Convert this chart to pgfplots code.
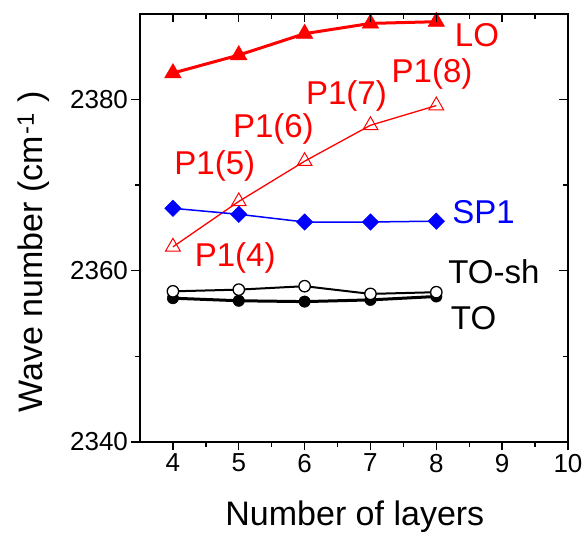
\documentclass[border=0pt]{standalone}
\usepackage{pgfplots}
\pgfplotsset{compat=1.18}
\usepackage{fontspec}
\setmainfont{Liberation Sans}
\tikzset{lbl/.style={anchor=base west, inner sep=0pt, font=\fontsize{33}{33}\selectfont}}
\begin{document}
\begin{tikzpicture}
\begin{axis}[
  name=main,
  width=428pt, height=428pt, scale only axis,
  xmin=3.5, xmax=10, ymin=2340, ymax=2390,
  xtick={4,5,6,7,8,9,10}, ytick={2340,2360,2380},
  minor xtick={4.5,5.5,6.5,7.5,8.5,9.5}, minor ytick={2350,2370},
  xtick pos=bottom, ytick pos=left, tick align=outside,
  major tick length=8.5pt, minor tick length=5pt,
  tick style={black, line width=1.4pt},
  axis line style={line width=1.5pt},
  ticklabel style={font=\fontsize{26}{26}\selectfont},
  /pgf/number format/assume math mode=true,
  /pgf/number format/1000 sep={},
  xlabel={Number of layers},
  ylabel={Wave number (cm\hspace{0.05em}\textsuperscript{-1}\hspace{0.3em})},
  label style={font=\fontsize{34}{34}\selectfont},
  xlabel style={at={(axis description cs:0.502,-0.196)}, anchor=base},
  ylabel style={at={(axis description cs:-0.227,0.444)}, anchor=base},
  clip=false,
]
% LO
\addplot[red, line width=3pt, mark=triangle*, mark size=9.5pt, mark options={line width=0.5pt}]
  coordinates {(4,2383.1) (5,2385.2) (6,2387.7) (7,2388.9) (8,2389.1)};
% P1
\addplot[red, line width=1.3pt, mark=triangle, mark size=8.5pt, mark options={fill=white, line width=1pt}]
  coordinates {(4,2362.8) (5,2368.1) (6,2372.8) (7,2377.0) (8,2379.3)};
% SP1
\addplot[blue, line width=1.5pt, mark=square*, mark size=5.8pt, mark options={rotate=45, line width=0.5pt}]
  coordinates {(4,2367.3) (5,2366.6) (6,2365.7) (7,2365.7) (8,2365.8)};
% TO
\addplot[black, line width=3pt, mark=*, mark size=5.7pt, mark options={line width=0.5pt}]
  coordinates {(4,2356.8) (5,2356.5) (6,2356.4) (7,2356.6) (8,2357.0)};
% TO-sh
\addplot[black, line width=2pt, mark=*, mark size=5.7pt, mark options={fill=white, line width=1.3pt}]
  coordinates {(4,2357.6) (5,2357.8) (6,2358.2) (7,2357.3) (8,2357.5)};

\node[lbl, red] at (axis cs:8.28,2386.26) {LO};
\node[lbl, red] at (axis cs:7.32,2381.94) {P1(8)};
\node[lbl, red] at (axis cs:6.02,2379.45) {P1(7)};
\node[lbl, red] at (axis cs:4.91,2375.6) {P1(6)};
\node[lbl, red] at (axis cs:4.02,2371.27) {P1(5)};
\node[lbl, red] at (axis cs:4.33,2360.56) {P1(4)};
\node[lbl, blue] at (axis cs:8.24,2365.55) {SP1};
\node[lbl, black] at (axis cs:8.18,2358.54) {TO-sh};
\node[lbl, black] at (axis cs:8.22,2353.17) {TO};
\end{axis}
\begin{axis}[
  width=428pt, height=428pt, scale only axis,
  xmin=3.5, xmax=10, ymin=2340, ymax=2390,
  xtick={4,5,6,7,8,9,10}, ytick={2340,2360,2380},
  minor xtick={4.5,5.5,6.5,7.5,8.5,9.5}, minor ytick={2350,2370},
  xtick pos=top, ytick pos=right, tick align=inside,
  major tick length=8.5pt, minor tick length=5pt,
  tick style={black, line width=1.4pt},
  axis line style={line width=1.5pt},
  xticklabels={}, yticklabels={},
]
\end{axis}
\pgfresetboundingbox
\path[use as bounding box] ([xshift=-140pt,yshift=-91pt]main.south west) rectangle ([xshift=17pt,yshift=14pt]main.north east);
\end{tikzpicture}
\end{document}
